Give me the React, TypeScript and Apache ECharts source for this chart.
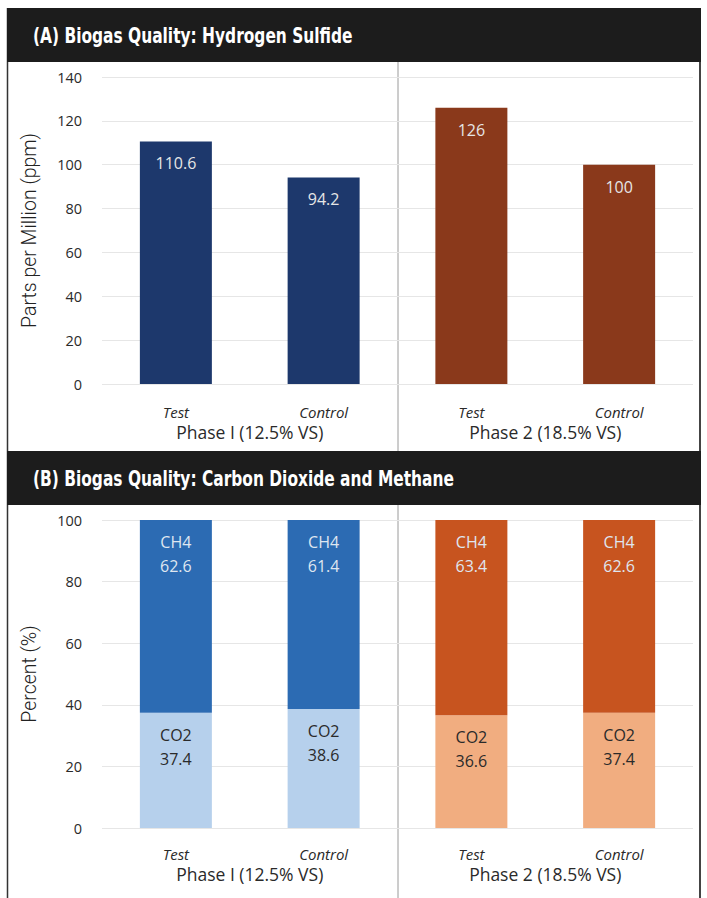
import React, { useEffect, useRef } from "react";
import * as echarts from "echarts";

// Bar categories and the two phase groups beneath them
const categories = ["Test", "Control", "Test", "Control"];
const phases = ["Phase I (12.5% VS)", "Phase 2 (18.5% VS)"];

// (A) hydrogen sulfide, ppm
const h2sPpm = [110.6, 94.2, 126, 100];
// (B) gas composition, percent
const co2Pct = [37.4, 38.6, 36.6, 37.4];
const ch4Pct = [62.6, 61.4, 63.4, 62.6];

const titleA = "(A) Biogas Quality: Hydrogen Sulfide";
const titleB = "(B) Biogas Quality: Carbon Dioxide and Methane";

// Phase I uses blues, Phase 2 uses oranges
const h2sColors = ["#1d386c", "#1d386c", "#8a391b", "#8a391b"];
const ch4Colors = ["#2c6bb3", "#2c6bb3", "#c7541f", "#c7541f"];
const co2Colors = ["#b6d0ec", "#b6d0ec", "#f1ad80", "#f1ad80"];

const W = 707;
const H = 898;
const FONT = "'Open Sans', 'Noto Sans', sans-serif";
const HEAD_FONT = "'DejaVu Sans Condensed', 'DejaVu Sans', sans-serif";

export default function App() {
  const ref = useRef<HTMLDivElement>(null);

  useEffect(() => {
    if (!ref.current) return;
    const chart = echarts.init(ref.current, undefined, { renderer: "svg" });

    const catAxis = (gridIndex: number, margin: number) => ({
      type: "category" as const,
      gridIndex,
      data: categories,
      position: "bottom" as const,
      axisLine: { show: false },
      axisTick: { show: false },
      axisLabel: {
        margin,
        fontFamily: FONT,
        fontStyle: "italic" as const,
        fontSize: 15,
        color: "#2a2a2a",
      },
    });
    const phaseAxis = (gridIndex: number, margin: number) => ({
      type: "category" as const,
      gridIndex,
      data: phases,
      position: "bottom" as const,
      axisLine: { show: false },
      axisTick: { show: false },
      axisLabel: {
        margin,
        fontFamily: FONT,
        fontSize: 17.5,
        color: "#2a2a2a",
      },
    });
    const valAxis = (gridIndex: number, max: number, name: string) => ({
      type: "value" as const,
      gridIndex,
      min: 0,
      max,
      interval: 20,
      name,
      nameLocation: "middle" as const,
      nameGap: 63,
      nameTextStyle: {
        fontFamily: "Roboto, sans-serif",
        fontWeight: 300,
        fontSize: 19.5,
        color: "#222",
      },
      axisLine: { show: false },
      axisTick: { show: false },
      axisLabel: {
        margin: 20,
        fontFamily: FONT,
        fontSize: 14.5,
        color: "#2a2a2a",
      },
      splitLine: { lineStyle: { color: "#e6e6e6", width: 1 } },
    });

    chart.setOption({
      animation: false,
      backgroundColor: "#ffffff",
      grid: [
        { left: 102, width: 591, top: 77, height: 307 },
        { left: 102, width: 591, top: 520, height: 308 },
      ],
      xAxis: [catAxis(0, 20), phaseAxis(0, 39), catAxis(1, 18), phaseAxis(1, 37)],
      yAxis: [
        valAxis(0, 140, "Parts per Million (ppm)"),
        valAxis(1, 100, "Percent (%)"),
      ],
      series: [
        {
          type: "bar",
          xAxisIndex: 0,
          yAxisIndex: 0,
          barWidth: 72,
          data: h2sPpm.map((v, i) => ({ value: v, itemStyle: { color: h2sColors[i] } })),
          label: {
            show: true,
            position: "insideTop",
            distance: 14,
            fontFamily: FONT,
            fontSize: 16,
            color: "#e6e6e6",
          },
        },
        {
          type: "bar",
          name: "CO2",
          stack: "gas",
          xAxisIndex: 2,
          yAxisIndex: 1,
          barWidth: 72,
          data: co2Pct.map((v, i) => ({ value: v, itemStyle: { color: co2Colors[i] } })),
          label: {
            show: true,
            position: "insideTop",
            distance: 10,
            formatter: "CO2\n{c}",
            lineHeight: 24,
            fontFamily: FONT,
            fontSize: 16,
            color: "#2a2a2a",
          },
        },
        {
          type: "bar",
          name: "CH4",
          stack: "gas",
          xAxisIndex: 2,
          yAxisIndex: 1,
          barWidth: 72,
          data: ch4Pct.map((v, i) => ({ value: v, itemStyle: { color: ch4Colors[i] } })),
          label: {
            show: true,
            position: "insideTop",
            distance: 10,
            formatter: "CH4\n{c}",
            lineHeight: 24,
            fontFamily: FONT,
            fontSize: 16,
            color: "#dfe6f0",
          },
        },
      ],
      graphic: [
        // outer frame
        { type: "line", shape: { x1: 7.5, y1: 8, x2: 7.5, y2: H }, style: { stroke: "#333", lineWidth: 1.5 } },
        { type: "line", shape: { x1: 700, y1: 8, x2: 700, y2: H }, style: { stroke: "#444", lineWidth: 2 } },
        // phase separators
        { type: "line", shape: { x1: 398, y1: 62, x2: 398, y2: 451 }, style: { stroke: "#9a9a9a", lineWidth: 1 } },
        { type: "line", shape: { x1: 398, y1: 505, x2: 398, y2: H }, style: { stroke: "#9a9a9a", lineWidth: 1 } },
        // section headers
        { type: "rect", shape: { x: 7, y: 8, width: 694, height: 54 }, style: { fill: "#1c1c1c" } },
        {
          type: "text",
          x: 33,
          y: 36,
          scaleX: 0.78,
          style: {
            text: titleA,
            fill: "#ffffff",
            font: `bold 22px ${HEAD_FONT}`,
            verticalAlign: "middle",
          },
        },
        { type: "rect", shape: { x: 7, y: 451, width: 694, height: 54 }, style: { fill: "#1c1c1c" } },
        {
          type: "text",
          x: 33,
          y: 479,
          scaleX: 0.78,
          style: {
            text: titleB,
            fill: "#ffffff",
            font: `bold 22px ${HEAD_FONT}`,
            verticalAlign: "middle",
          },
        },
      ],
    });

    return () => chart.dispose();
  }, []);

  return (
    <div
      ref={ref}
      style={{ position: "absolute", left: 0, top: 0, width: W, height: H }}
    />
  );
}
